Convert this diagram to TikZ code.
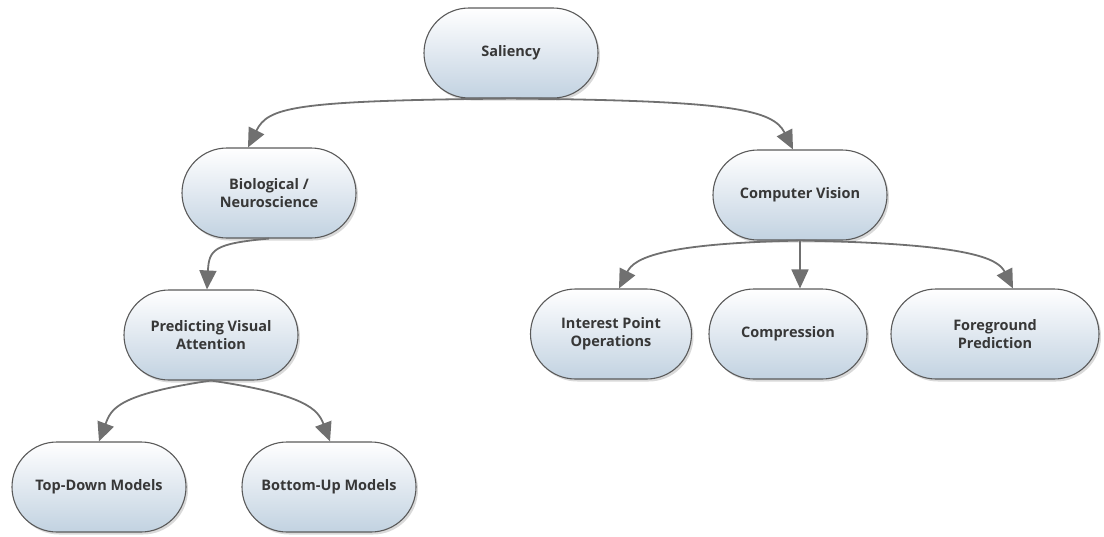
\documentclass[tikz,border=0pt]{standalone}
\usepackage{fontspec}
\setmainfont{Open Sans}
\usetikzlibrary{shapes.misc,arrows.meta,shadows}
\definecolor{boxbot}{RGB}{194,210,225}
\definecolor{boxline}{RGB}{90,90,90}
\definecolor{txt}{RGB}{55,55,55}
\definecolor{arrowc}{RGB}{112,112,112}
\tikzset{
  pill/.style={rounded rectangle, draw=boxline, line width=1.1pt,
    top color=white, bottom color=boxbot,
    minimum height=90pt, minimum width=178pt, inner sep=2pt,
    align=center, text=txt, font=\fontsize{14.5}{18}\selectfont\bfseries,
    drop shadow={opacity=0.3, shadow xshift=2pt, shadow yshift=-2.5pt}},
  conn/.style={draw=arrowc, line width=1.8pt,
    -{Triangle[length=19pt,width=17pt,fill=arrowc]}},
}
\begin{document}
\begin{tikzpicture}[x=1pt,y=1pt]
\useasboundingbox (0,0) rectangle (1104,-536);
\node[pill] (sal) at (511,-53) {Saliency};
\node[pill] (bio) at (269,-193) {Biological /\\Neuroscience};
\node[pill] (cv) at (800,-195) {Computer Vision};
\node[pill] (pva) at (211,-335) {Predicting Visual\\Attention};
\node[pill] (td) at (99,-487) {Top-Down Models};
\node[pill] (bu) at (329,-487) {Bottom-Up Models};
\node[pill, minimum width=165pt] (ipo) at (611,-334) {Interest Point\\Operations};
\node[pill, minimum width=162pt] (comp) at (788,-334) {Compression};
\node[pill, minimum width=212pt] (fg) at (995,-334) {Foreground\\Prediction};

\draw[conn] (sal.south) .. controls +(-220,-2) and +(20,40) .. ([xshift=-21pt]bio.north);
\draw[conn] (sal.south) .. controls +(220,-2) and +(-20,40) .. ([xshift=-7pt]cv.north);
\draw[conn] (bio.south) .. controls +(-55,-5) and +(2,40) .. ([xshift=-4pt]pva.north);
\draw[conn] (cv.south) .. controls +(-140,-3) and +(15,30) .. ([xshift=8pt]ipo.north);
\draw[conn] (cv.south) -- (comp.north -| cv.south);
\draw[conn] (cv.south) .. controls +(170,-3) and +(-15,30) .. ([xshift=18pt]fg.north);
\draw[conn] (pva.south) .. controls +(-95,-14) and +(12,32) .. (td.north);
\draw[conn] (pva.south) .. controls +(95,-14) and +(-12,32) .. ([xshift=1pt]bu.north);
\end{tikzpicture}
\end{document}
